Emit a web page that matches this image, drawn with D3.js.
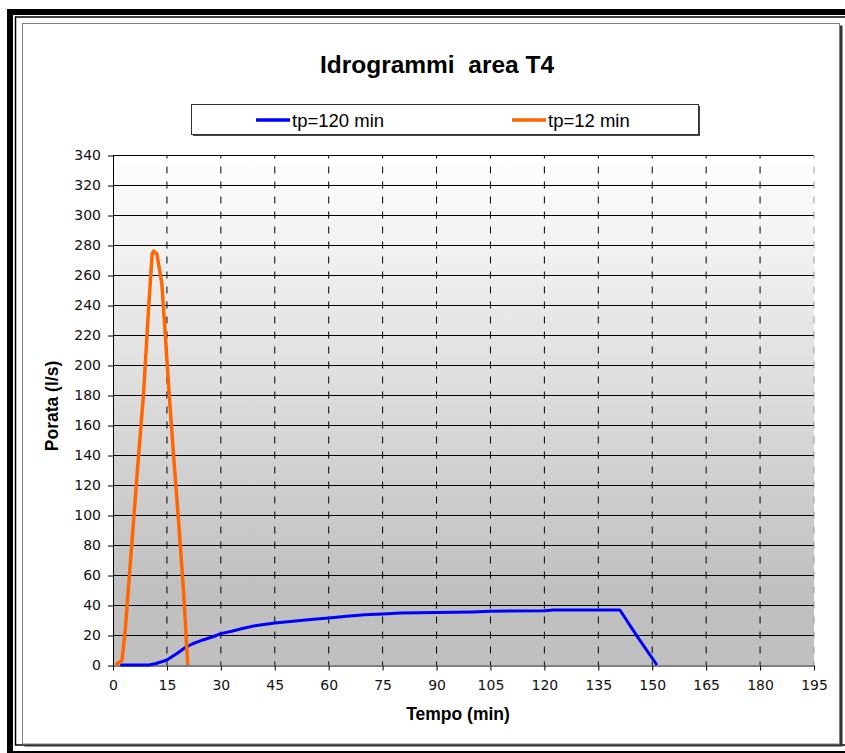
<!DOCTYPE html>
<html>
<head>
<meta charset="utf-8">
<script src="https://cdn.jsdelivr.net/npm/d3@7"></script>
<style>
  body { margin: 0; background: #ffffff; }
  text { font-family: Arial, "Liberation Sans", sans-serif; }
</style>
</head>
<body>
<div id="chart"></div>
<script>
// Data
var timeBlue = [2, 5, 10, 12, 15, 18, 20, 22, 25, 28, 30, 33, 36, 40, 45, 50, 55, 60, 65, 70, 75, 80, 90, 100, 105, 120, 122.5, 141, 146, 151.3]
var flowBlue = [0, 0, 0, 1, 3.3, 8, 11.5, 14, 16.7, 19, 20.9, 22.5, 24.3, 26.4, 28, 29.2, 30.3, 31.3, 32.5, 33.5, 34, 34.6, 35, 35.4, 35.8, 36.2, 36.7, 36.7, 18.4, 0]

var timeOrange = [0.7, 2.5, 3.4, 5.3, 6.7, 8.5, 9.9, 10.9, 11.3, 12.2, 13.6, 14.6, 15.5, 16.9, 18.3, 19.6, 20.8]
var flowOrange = [0, 3, 23, 83, 127, 181, 238, 274, 276, 274, 254, 218, 185, 138, 94, 50, 0]

var seriesNames = ["tp=120 min", "tp=12 min"]
var seriesColors = ["#0000ff", "#ff6600"]

var xTicks = d3.range(0, 196, 15)
var yTicks = d3.range(0, 341, 20)

// Plot Margins & Dimensions
var W = 845, H = 753
var plot = {left: 113, right: 814, top: 155, bottom: 665}

var svg = d3.select("#chart")
  .append("svg")
    .attr("width", W)
    .attr("height", H)

// outer frame
svg.append("rect").attr("x", 10).attr("y", 12).attr("width", 850).attr("height", 742)
  .attr("fill", "none").attr("stroke", "#000").attr("stroke-width", 6)
svg.append("rect").attr("x", 15.5).attr("y", 17).attr("width", 840).attr("height", 728)
  .attr("fill", "none").attr("stroke", "#000").attr("stroke-width", 1.5)

// chart area with shadow
svg.append("rect").attr("x", 24.5).attr("y", 25.5).attr("width", 818).attr("height", 721).attr("fill", "#333")
svg.append("rect").attr("x", 22.5).attr("y", 23.5).attr("width", 817).attr("height", 720.5)
  .attr("fill", "#fff").attr("stroke", "#808080").attr("stroke-width", 1)

// gradient for plot background
var grad = svg.append("defs").append("linearGradient")
  .attr("id", "bg").attr("x1", 0).attr("y1", 0).attr("x2", 0).attr("y2", 1)
grad.append("stop").attr("offset", "0%").attr("stop-color", "#ffffff")
grad.append("stop").attr("offset", "85%").attr("stop-color", "#c0c0c0")
grad.append("stop").attr("offset", "100%").attr("stop-color", "#c0c0c0")

var x = d3.scaleLinear().domain([0, 195]).range([plot.left, plot.right])
var y = d3.scaleLinear().domain([0, 340]).range([plot.bottom, plot.top])

svg.append("rect")
  .attr("x", plot.left).attr("y", plot.top)
  .attr("width", plot.right - plot.left).attr("height", plot.bottom - plot.top)
  .attr("fill", "url(#bg)")

// horizontal gridlines
svg.append("g")
  .selectAll("line")
  .data(yTicks.slice(1))
  .enter()
  .append("line")
    .attr("x1", plot.left).attr("x2", plot.right)
    .attr("y1", function(d) { return y(d) + 0.5 }).attr("y2", function(d) { return y(d) + 0.5 })
    .attr("stroke", "#000").attr("stroke-width", 1)

// vertical dashed gridlines
svg.append("g")
  .selectAll("line")
  .data(xTicks.slice(1))
  .enter()
  .append("line")
    .attr("x1", function(d) { return x(d) }).attr("x2", function(d) { return x(d) })
    .attr("y1", plot.bottom).attr("y2", plot.top)
    .attr("stroke", function(d) { return d == 195 ? "#999" : "#000" }).attr("stroke-width", 1)
    .attr("stroke-dasharray", "7,8").attr("stroke-dashoffset", 3.5)

// Add X axis
var xAxis = svg.append("g")
  .attr("transform", "translate(0," + (plot.bottom + 0.5) + ")")
  .call(d3.axisBottom(x).tickValues(xTicks).tickSize(5).tickPadding(10).tickSizeOuter(0))
xAxis.select(".domain").attr("stroke", "#000")
xAxis.selectAll("text").style("font-family", "'DejaVu Sans', sans-serif").style("font-size", "14px").attr("fill", "#111")

// Add Y axis
var yAxis = svg.append("g")
  .attr("transform", "translate(" + plot.left + ",0.5)")
  .call(d3.axisLeft(y).tickValues(yTicks).tickSize(5).tickPadding(7).tickSizeOuter(0))
yAxis.select(".domain").attr("stroke", "#000")
yAxis.selectAll("text").style("font-family", "'DejaVu Sans', sans-serif").style("font-size", "14px").attr("fill", "#111")

// lines
var line = d3.line()
  .x(function(d) { return x(d[0]) })
  .y(function(d) { return y(d[1]) })

var blueData = timeBlue.map(function(t, i) { return [t, flowBlue[i]] })
var orangeData = timeOrange.map(function(t, i) { return [t, flowOrange[i]] })

svg.append("path").datum(blueData)
  .attr("d", line).attr("fill", "none")
  .attr("stroke", seriesColors[0]).attr("stroke-width", 3).attr("stroke-linejoin", "round")

svg.append("path").datum(orangeData)
  .attr("d", line).attr("fill", "none")
  .attr("stroke", seriesColors[1]).attr("stroke-width", 3.5).attr("stroke-linejoin", "round")

// Title
svg.append("text")
  .attr("x", 437).attr("y", 73)
  .attr("text-anchor", "middle")
  .style("font-size", "24.5px").style("font-weight", "bold")
  .style("white-space", "pre")
  .text("Idrogrammi  area T4")

// Axis titles
svg.append("text")
  .attr("x", 458).attr("y", 720)
  .attr("text-anchor", "middle")
  .style("font-size", "17.5px").style("font-weight", "bold")
  .text("Tempo (min)")

svg.append("text")
  .attr("transform", "translate(58,406) rotate(-90)")
  .attr("text-anchor", "middle")
  .style("font-size", "17.5px").style("font-weight", "bold")
  .text("Porata (l/s)")

// Legend
svg.append("rect").attr("x", 193).attr("y", 106).attr("width", 507).attr("height", 30).attr("fill", "#444")
svg.append("rect").attr("x", 191.5).attr("y", 104.5).attr("width", 507).attr("height", 30)
  .attr("fill", "#fff").attr("stroke", "#333").attr("stroke-width", 1)

var legX = [256, 512]
var leg = svg.append("g")
  .selectAll("g")
  .data(seriesNames)
  .enter()
  .append("g")
    .attr("transform", function(d, i) { return "translate(" + legX[i] + ",120)" })
leg.append("line")
  .attr("x1", 0).attr("x2", 34).attr("y1", 0).attr("y2", 0)
  .attr("stroke", function(d, i) { return seriesColors[i] }).attr("stroke-width", 3.5)
leg.append("text")
  .attr("x", 36).attr("y", 6.5)
  .style("font-size", "18.5px")
  .text(function(d) { return d })
</script>
</body>
</html>
